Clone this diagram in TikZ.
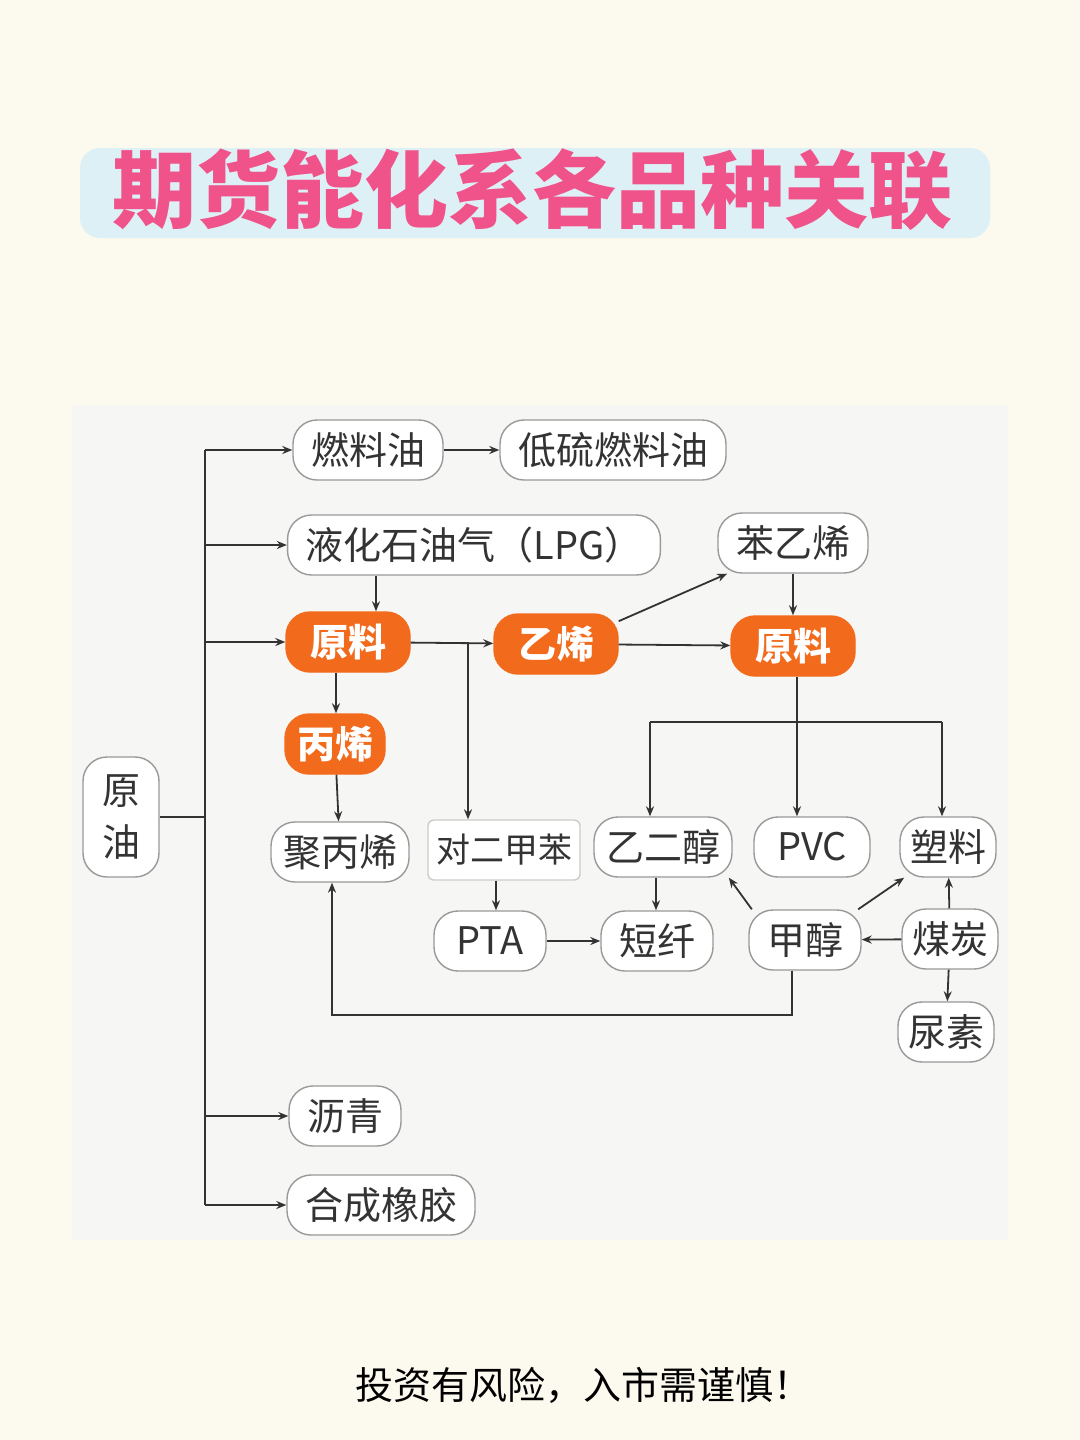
\documentclass[tikz,border=0pt]{standalone}
\usepackage{fontspec}
\newfontfamily\cjk{Noto Sans CJK SC}
\usetikzlibrary{arrows.meta,positioning}
\definecolor{cream}{HTML}{FCF9EE}
\definecolor{panel}{HTML}{F6F6F4}
\definecolor{ink}{HTML}{333333}
\definecolor{hot}{HTML}{F26A1B}
\definecolor{pinkt}{HTML}{F0528A}
\definecolor{skyb}{HTML}{DDF0F6}
\begin{document}
\begin{tikzpicture}[x=0.5pt,y=-0.5pt,
  box/.style={draw=black!40,line width=0.7pt,fill=white,rounded corners=12pt,
    font=\cjk\fontsize{19}{20}\selectfont,text=ink,minimum height=30pt,inner xsep=9pt},
  hot/.style={box,draw=hot,fill=hot,text=white,inner xsep=12pt,
    font=\cjk\bfseries\fontsize{19}{20}\selectfont},
  link/.style={draw=ink,line width=0.9pt,-{Stealth[length=5pt,width=4pt]}},
  bar/.style={draw=ink,line width=0.9pt}]
\useasboundingbox (0,0) rectangle (1080,1440);
\fill[cream] (0,0) rectangle (1080,1440);
\fill[panel] (72,405) rectangle (1008,1240);

% title
\fill[skyb,rounded corners=10pt] (80,148) rectangle (990,238);
\node[font=\cjk\bfseries\fontsize{42}{44}\selectfont,text=pinkt] (title) at (532,190) {期货能化系各品种关联};

% nodes
\node[box,align=center,minimum width=38pt,minimum height=60pt] (crude) at (121,817) {原\\[6pt]油};
\node[box] (fuel) at (368,450) {燃料油};
\node[box] (lsfuel) at (613,450) {低硫燃料油};
\node[box] (lpg) at (474,545) {液化石油气（LPG）};
\node[box] (styr) at (793,543) {苯乙烯};
\node[hot] (feedA) at (348,642) {原料};
\node[hot] (ethy) at (556,644) {乙烯};
\node[hot] (feedB) at (793,646) {原料};
\node[hot,inner xsep=6pt] (prop) at (335,744) {丙烯};
\node[box,inner xsep=6pt] (pp) at (340,852) {聚丙烯};
\node[box,rounded corners=3pt,draw=black!20,inner xsep=4pt,font=\cjk\fontsize{17}{18}\selectfont] (px) at (504,850) {对二甲苯};
\node[box,inner xsep=6pt] (meg) at (663,847) {乙二醇};
\node[box,minimum width=58pt] (pvc) at (812,847) {PVC};
\node[box,inner xsep=5pt] (plas) at (948,847) {塑料};
\node[box,minimum width=56pt] (pta) at (490,941) {PTA};
\node[box] (fib) at (657,941) {短纤};
\node[box] (meth) at (805,940) {甲醇};
\node[box,inner xsep=5pt] (coal) at (950,939) {煤炭};
\node[box,inner xsep=5pt] (urea) at (946,1032) {尿素};
\node[box] (asph) at (345,1116) {沥青};
\node[box] (rubb) at (381,1205) {合成橡胶};

% trunk
\coordinate (tk) at (205,817);
\draw[bar] (crude) -- (tk);
\draw[bar] (205,450) -- (205,1205);
\draw[link] (205,450) -- (fuel);
\draw[link] (205,545) -- (lpg.west);
\draw[link] (205,642) -- (feedA);
\draw[link] (205,1116) -- (asph);
\draw[link] (205,1205) -- (rubb);

\draw[link] (fuel) -- (lsfuel);
\draw[link] (lpg.south -| 376,0) -- (feedA.north -| 376,0);
\draw[link] (feedA.south -| 336,0) -- (prop.north -| 336,0);
\draw[link] (prop) -- (pp);
\draw[link] (feedA) -- (ethy);
\draw[link] (468,642) -- (px.north -| 468,0);
\draw[link] (ethy.20) -- (styr.205);
\draw[link] (ethy) -- (feedB);
\draw[link] (styr) -- (feedB);
\draw[link] (feedB.south -| 797,0) -- (pvc.north -| 797,0);
\draw[bar] (650,722) -- (942,722);
\draw[link] (650,722) -- (meg.north -| 650,0);
\draw[link] (942,722) -- (plas.north -| 942,0);
\draw[link] (px.south -| 496,0) -- (pta.north -| 496,0);
\draw[link] (pta) -- (fib);
\draw[link] (meg.south -| 656,0) -- (fib.north -| 656,0);
\draw[link] (meth.150) -- (meg.-25);
\draw[link] (meth.30) -- (plas.-145);
\draw[link] (coal) -- (meth);
\draw[link] (coal) -- (plas);
\draw[link] (coal) -- (urea);
\draw[link] (meth.south -| 792,0) -- (792,1015) -- (332,1015) -- (pp.south -| 332,0);

% footer
\node[font=\cjk\fontsize{19}{20}\selectfont,text=black] (note) at (583,1385) {投资有风险，入市需谨慎！};
\end{tikzpicture}
\end{document}
